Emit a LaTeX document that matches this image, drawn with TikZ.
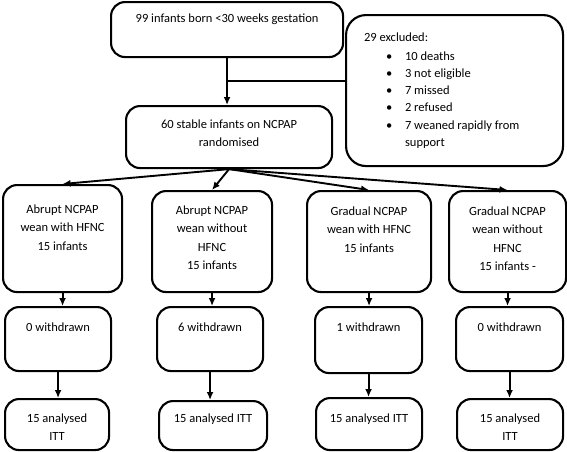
\documentclass[tikz,border=0pt]{standalone}
\usepackage{fontspec}
\setmainfont{Carlito}
\usetikzlibrary{arrows.meta}
\def\boxtext(#1:#2:#3)#4{\parbox[t][#2pt][t]{#1pt}{\centering\vspace*{#3pt}\strut#4}}
\def\exclitem#1{\par\hspace*{40pt}\makebox[19pt][l]{\textbullet}#1}

\begin{document}
\begin{tikzpicture}[x=1pt, y=-1pt,
		stage/.style={draw, line width=2.1pt, rounded corners=14pt, inner sep=0pt, anchor=north west, font=\fontsize{12.5}{18.5}\selectfont},
		flow/.style={line width=1.9pt, -{Latex[length=8pt,width=7pt]}}]
			%%%%% START %%%%%
			
			\useasboundingbox (0, 0) rectangle (567, 451);
			
			\node[stage] (born) at (110, 1) {\boxtext(232:55:7){99 infants born <30 weeks gestation}};
			
			\node[stage, rounded corners=20pt] (excl) at (345, 14) {\parbox[t][151pt][t]{217pt}{\vspace*{13pt}\strut\hspace*{18pt}29 excluded:\par\vspace{1.7pt}\fontsize{12.5}{17.3}\selectfont
				\exclitem{10 deaths}
				\exclitem{3 not eligible}
				\exclitem{7 missed}
				\exclitem{2 refused}
				\exclitem{7 weaned rapidly from}
				\par\hspace*{59pt}support}};
			
			\node[stage] (rand) at (125, 105) {\boxtext(206:62:9){60 stable infants on NCPAP\\randomised}};
			
			\node[stage] (armA) at (2, 184) {\boxtext(119:107:15){Abrupt NCPAP\\wean with HFNC\\15 infants}};
			\node[stage] (armB) at (151, 190) {\boxtext(120:101:10){Abrupt NCPAP\\wean without\\HFNC\\15 infants}};
			\node[stage] (armC) at (306, 190) {\boxtext(124:101:11){Gradual NCPAP\\wean with HFNC\\15 infants}};
			\node[stage] (armD) at (448, 190) {\boxtext(117:101:11){Gradual NCPAP\\wean without\\HFNC\\15 infants -}};
			
			\node[stage] (wdA) at (4, 306) {\boxtext(106:64:11){0 withdrawn}};
			\node[stage] (wdB) at (156, 306) {\boxtext(106:64:11){6 withdrawn}};
			\node[stage] (wdC) at (314, 306) {\boxtext(107:66:11){1 withdrawn}};
			\node[stage] (wdD) at (455, 306) {\boxtext(107:64:11){0 withdrawn}};
			
			\node[stage] (ittA) at (4, 398) {\boxtext(104:51:10){15 analysed\\ITT}};
			\node[stage] (ittB) at (158, 400) {\boxtext(108:49:8){15 analysed ITT}};
			\node[stage] (ittC) at (315, 397) {\boxtext(106:52:11){15 analysed ITT}};
			\node[stage] (ittD) at (456, 398) {\boxtext(106:51:10){15 analysed\\ITT}};
			
			\draw[flow] (born.south) -- (born.south |- rand.north);
			\coordinate (split) at (born.south |- 0, 81);
			\draw[line width=1.9pt] (split) -- (split -| excl.west);
			
			\draw[flow] (rand.south) -- (armA.north);
			\draw[flow] (rand.south) -- (armB.north);
			\draw[flow] (rand.south) -- (armC.north);
			\draw[flow] (rand.south) -- (armD.north);
			
			\draw[flow] (armA.south) -- (armA.south |- wdA.north);
			\draw[flow] (armB.south) -- (armB.south |- wdB.north);
			\draw[flow] (armC.south) -- (armC.south |- wdC.north);
			\draw[flow] (armD.south) -- (armD.south |- wdD.north);
			
			\draw[flow] (wdA.south) -- (wdA.south |- ittA.north);
			\draw[flow] (wdB.south) -- (wdB.south |- ittB.north);
			\draw[flow] (wdC.south) -- (wdC.south |- ittC.north);
			\draw[flow] (wdD.south) -- (wdD.south |- ittD.north);
			
			%%%%% END %%%%%
\end{tikzpicture}
\end{document}
